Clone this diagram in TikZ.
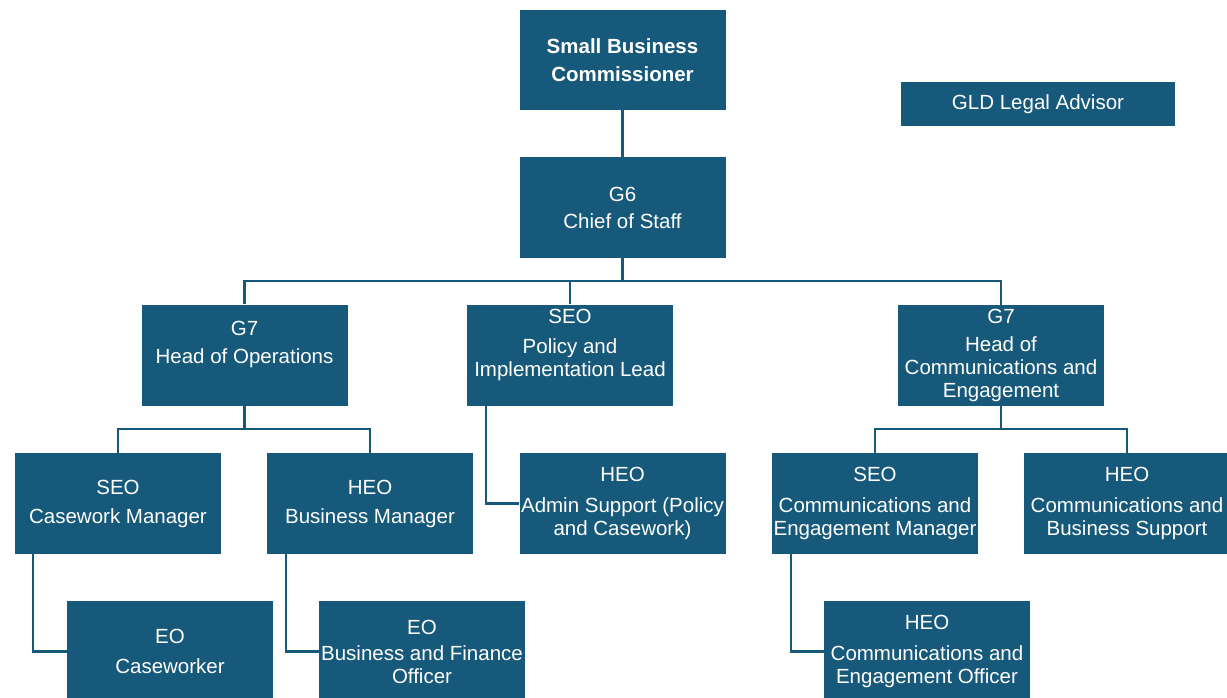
\documentclass[tikz,border=0pt]{standalone}
\usepackage{fontspec}
\setmainfont{Liberation Sans}
\definecolor{boxblue}{HTML}{16597A}
\begin{document}
\begin{tikzpicture}[x=1pt,y=-1pt,
  orgbox/.style={draw=none,fill=boxblue,text=white,minimum width=206pt,minimum height=101pt,
    inner sep=0pt,align=center,font=\fontsize{20.5}{23}\selectfont},
  conn/.style={draw=boxblue,line width=2.2pt}]
\fill[white] (0,0) rectangle (1227,697);
\useasboundingbox (0,0) rectangle (1227,697);
% nodes
\node[orgbox,minimum height=100pt,font=\fontsize{20.5}{28}\selectfont\bfseries] (sbc) at (622.5,60) {Small Business\\Commissioner};
\node[orgbox,minimum width=274pt,minimum height=44pt] (gld) at (1038,104) {GLD Legal Advisor};
\node[orgbox] (g6) at (622.5,207.5) {G6\\[4pt]Chief of Staff};
\node[orgbox] (ops) at (244.5,355) {G7\\[5pt]Head of Operations\\[-4pt]\strut};
\node[orgbox] (pol) at (570,355) {SEO\\[7pt]Policy and\\Implementation Lead\\[-6pt]\strut};
\node[orgbox] (hoc) at (1001,355.5) {G7\\[5pt]Head of\\Communications and\\Engagement};
\node[orgbox] (cwm) at (118,503.5) {SEO\\[6pt]Casework Manager};
\node[orgbox] (bm) at (370,503.5) {HEO\\[6pt]Business Manager};
\node[orgbox] (adm) at (622.5,503.5) {HEO\\[8pt]Admin Support (Policy\\and Casework)};
\node[orgbox] (cem) at (875,503.5) {SEO\\[8pt]Communications and\\Engagement Manager};
\node[orgbox] (cbs) at (1127,503.5) {HEO\\[8pt]Communications and\\Business Support};
\node[orgbox] (cw) at (170,651.5) {EO\\[7pt]Caseworker};
\node[orgbox] (bfo) at (422,651.5) {EO\\[3pt]Business and Finance\\Officer};
\node[orgbox] (ceo) at (927,651.5) {HEO\\[8pt]Communications and\\Engagement Officer};
% bus coordinates
\coordinate (b1) at (622.5,281);
\coordinate (b2) at (244.5,429);
\coordinate (b3) at (1001,429);
% connectors
\draw[conn] (sbc.south) -- (g6.north);
\draw[conn] (g6.south) -- (b1);
\draw[conn] (ops.north) |- (b1) -| (hoc.north);
\draw[conn] (pol.north) -- (pol.north |- b1);
\draw[conn] (ops.south) -- (b2);
\draw[conn] (cwm.north) |- (b2) -| (bm.north);
\draw[conn] (hoc.south) -- (b3);
\draw[conn] (cem.north) |- (b3) -| (cbs.north);
\draw[conn] ([xshift=18pt]cwm.south west) |- (cw.west);
\draw[conn] ([xshift=19pt]bm.south west) |- (bfo.west);
\draw[conn] ([xshift=19pt]pol.south west) |- (adm.west);
\draw[conn] ([xshift=19pt]cem.south west) |- (ceo.west);
\end{tikzpicture}
\end{document}
